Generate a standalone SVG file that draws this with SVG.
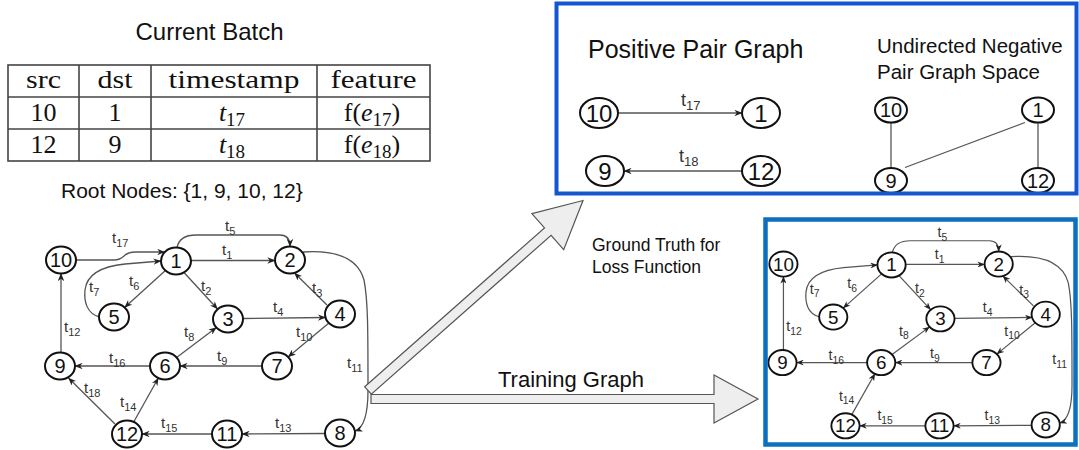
<svg xmlns="http://www.w3.org/2000/svg" width="1079" height="450" viewBox="0 0 1079 450">
<defs>
<style>
.nd ellipse{fill:#fff;stroke:#111;stroke-width:2}
.nd text{font-family:"Liberation Sans",Arial,sans-serif;font-size:20px;text-anchor:middle;fill:#111}
.big text{font-size:24px}
.e{fill:none;stroke:#555;stroke-width:1.3}
.ea{marker-end:url(#ah)}
.lbl{font-family:"Liberation Sans",Arial,sans-serif;font-size:15px;fill:#333}
.sub{font-size:11px}
.lbl.lg{font-size:18px}
.lbl.lg .sub{font-size:13px}
.sans{font-family:"Liberation Sans",Arial,sans-serif;fill:#111}
.serif{font-family:"Liberation Serif","Times New Roman",serif;fill:#111;font-size:26px;text-anchor:middle}
.it{font-style:italic}
.ss{font-size:19px}
.grid{stroke:#444;stroke-width:1.6;fill:none}
.blk{fill:#eeeeee;stroke:#555;stroke-width:1.2}
</style>
<marker id="ah" viewBox="0 0 10 8" refX="9.5" refY="4" markerWidth="8" markerHeight="6.4" orient="auto" markerUnits="userSpaceOnUse">
<path d="M0,0 L10,4 L0,8 L3,4 z" fill="#222"/>
</marker>
</defs>
<rect width="1079" height="450" fill="#fff"/>

<!-- Title and table -->
<text class="sans" x="209.5" y="40" font-size="24" text-anchor="middle">Current Batch</text>
<g id="table">
<rect class="grid" x="8" y="65" width="422" height="96"/>
<line class="grid" x1="8" y1="97" x2="430" y2="97"/>
<line class="grid" x1="8" y1="129" x2="430" y2="129"/>
<line class="grid" x1="79" y1="65" x2="79" y2="161"/>
<line class="grid" x1="151" y1="65" x2="151" y2="161"/>
<line class="grid" x1="317" y1="65" x2="317" y2="161"/>
<text class="serif" x="43.5" y="88" textLength="35" lengthAdjust="spacingAndGlyphs">src</text>
<text class="serif" x="115" y="88" textLength="35" lengthAdjust="spacingAndGlyphs">dst</text>
<text class="serif" x="234" y="88" textLength="131" lengthAdjust="spacingAndGlyphs">timestamp</text>
<text class="serif" x="373.5" y="88" textLength="86" lengthAdjust="spacingAndGlyphs">feature</text>
<text class="serif" x="43.5" y="121">10</text>
<text class="serif" x="115" y="121">1</text>
<text class="serif" x="232" y="121"><tspan class="it">t</tspan><tspan class="ss" dy="5">17</tspan></text>
<text class="serif" x="372" y="121">f(<tspan class="it">e</tspan><tspan class="ss" dy="5">17</tspan><tspan dy="-5">)</tspan></text>
<text class="serif" x="43.5" y="153">12</text>
<text class="serif" x="115" y="153">9</text>
<text class="serif" x="232" y="153"><tspan class="it">t</tspan><tspan class="ss" dy="5">18</tspan></text>
<text class="serif" x="372" y="153">f(<tspan class="it">e</tspan><tspan class="ss" dy="5">18</tspan><tspan dy="-5">)</tspan></text>
</g>
<text class="sans" x="61" y="198" font-size="21">Root Nodes: {1, 9, 10, 12}</text>

<!-- Left graph connectors -->
<g id="connectors-left">
<path class="e ea" d="M76,260 L114,260 Q120,260 124,256 Q128,252 136,252 L164.8,252"/>
<path class="e ea" d="M100,317 C86,314 84,300 85,290 C87,272 105,266 125,264 L161,261"/>
<path class="e ea" d="M165.4,270.6 L124.6,307.4"/>
<path class="e ea" d="M184,272.5 L217.5,309"/>
<path class="e ea" d="M191,260.5 L275,260.5"/>
<path class="e ea" d="M177,247.5 C179,238 186,235 196,235 L280,235 C287,235 290,239 290,246.5"/>
<path class="e ea" d="M327,305 L294.5,273"/>
<path class="e ea" d="M243,318.5 L325.5,317.5"/>
<path class="e ea" d="M328.9,323.1 L288.1,356.9"/>
<path class="e ea" d="M262,366 L180,366"/>
<path class="e ea" d="M176.6,357.4 L216.4,327.6"/>
<path class="e ea" d="M150,366 L75,366"/>
<path class="e ea" d="M61,352.5 L61,273.5"/>
<path class="e ea" d="M115,424 L68.5,378"/>
<path class="e ea" d="M133.7,422 L158.3,378"/>
<path class="e ea" d="M212,434 L142,434"/>
<path class="e ea" d="M325,433.5 L242,434"/>
<path class="e ea" d="M303,252 C335,250 358,258 364,280 C368,300 368,330 368,390 C368,415 364,428 355,431"/>
<text class="lbl" x="112" y="243">t<tspan class="sub" dy="4">17</tspan></text>
<text class="lbl" x="89" y="292">t<tspan class="sub" dy="4">7</tspan></text>
<text class="lbl" x="129" y="286">t<tspan class="sub" dy="4">6</tspan></text>
<text class="lbl" x="201" y="291">t<tspan class="sub" dy="4">2</tspan></text>
<text class="lbl" x="222" y="255">t<tspan class="sub" dy="4">1</tspan></text>
<text class="lbl" x="225" y="231">t<tspan class="sub" dy="4">5</tspan></text>
<text class="lbl" x="312" y="293">t<tspan class="sub" dy="4">3</tspan></text>
<text class="lbl" x="273" y="312">t<tspan class="sub" dy="4">4</tspan></text>
<text class="lbl" x="296" y="337">t<tspan class="sub" dy="4">10</tspan></text>
<text class="lbl" x="217" y="361">t<tspan class="sub" dy="4">9</tspan></text>
<text class="lbl" x="184" y="337">t<tspan class="sub" dy="4">8</tspan></text>
<text class="lbl" x="109" y="363">t<tspan class="sub" dy="4">16</tspan></text>
<text class="lbl" x="64" y="332">t<tspan class="sub" dy="4">12</tspan></text>
<text class="lbl" x="84" y="393">t<tspan class="sub" dy="4">18</tspan></text>
<text class="lbl" x="120" y="407">t<tspan class="sub" dy="4">14</tspan></text>
<text class="lbl" x="161" y="428">t<tspan class="sub" dy="4">15</tspan></text>
<text class="lbl" x="275" y="428">t<tspan class="sub" dy="4">13</tspan></text>
<text class="lbl" x="347" y="368">t<tspan class="sub" dy="4">11</tspan></text>
</g>

<!-- Left graph nodes -->
<g id="n10" class="nd"><ellipse cx="61" cy="260" rx="15" ry="13.5"/><text x="61" y="267">10</text></g>
<g id="n1" class="nd"><ellipse cx="176" cy="261" rx="15" ry="13.5"/><text x="176" y="268">1</text></g>
<g id="n5" class="nd"><ellipse cx="114" cy="317" rx="15" ry="13.5"/><text x="114" y="324">5</text></g>
<g id="n3" class="nd"><ellipse cx="228" cy="319" rx="15" ry="13.5"/><text x="228" y="326">3</text></g>
<g id="n2" class="nd"><ellipse cx="290" cy="260" rx="15" ry="13.5"/><text x="290" y="267">2</text></g>
<g id="n4" class="nd"><ellipse cx="340" cy="314" rx="15" ry="13.5"/><text x="340" y="321">4</text></g>
<g id="n7" class="nd"><ellipse cx="277" cy="366" rx="15" ry="13.5"/><text x="277" y="373">7</text></g>
<g id="n6" class="nd"><ellipse cx="165" cy="366" rx="15" ry="13.5"/><text x="165" y="373">6</text></g>
<g id="n9" class="nd"><ellipse cx="60" cy="366" rx="15" ry="13.5"/><text x="60" y="373">9</text></g>
<g id="n12" class="nd"><ellipse cx="127" cy="434" rx="15" ry="13.5"/><text x="127" y="441">12</text></g>
<g id="n11" class="nd"><ellipse cx="227" cy="434" rx="15" ry="13.5"/><text x="227" y="441">11</text></g>
<g id="n8" class="nd"><ellipse cx="340" cy="433" rx="15" ry="13.5"/><text x="340" y="440">8</text></g>

<!-- Block arrows -->
<g id="block-arrows">
<polygon class="blk" points="364.7,386.8 544.5,227.9 531.9,213.6 583,200.5 563.7,249.6 551.1,235.3 371.3,394.2"/>
<polygon class="blk" points="371,394.5 714,394.5 714,375 758,399 714,423 714,403.5 371,403.5"/>
</g>
<text class="sans" x="498" y="387" font-size="22">Training Graph</text>
<text class="sans" x="592" y="251" font-size="17.5">Ground Truth for</text>
<text class="sans" x="592" y="273" font-size="17.5">Loss Function</text>

<!-- Positive / negative pair panel -->
<text class="sans" x="588" y="58" font-size="25">Positive Pair Graph</text>
<text class="sans" x="877" y="53" font-size="20.5">Undirected Negative</text>
<text class="sans" x="877" y="79" font-size="20.5">Pair Graph Space</text>
<g id="connectors-pairs">
<path class="e ea" d="M618,113 L742,113"/>
<path class="e ea" d="M742,171 L624,171"/>
<text class="lbl lg" x="681" y="106">t<tspan class="sub" dy="4">17</tspan></text>
<text class="lbl lg" x="679" y="162">t<tspan class="sub" dy="4">18</tspan></text>
<line class="e" x1="891" y1="122" x2="891" y2="168"/>
<line class="e" x1="1038" y1="122" x2="1038" y2="168"/>
<line class="e" x1="1025" y1="122.5" x2="905" y2="167.5"/>
</g>
<g id="pp10" class="nd big"><ellipse cx="599" cy="113" rx="19" ry="15"/><text x="599" y="121.5">10</text></g>
<g id="pp1" class="nd big"><ellipse cx="761" cy="113" rx="19" ry="15"/><text x="761" y="121.5">1</text></g>
<g id="pp9" class="nd big"><ellipse cx="605" cy="171" rx="19" ry="15"/><text x="605" y="179.5">9</text></g>
<g id="pp12" class="nd big"><ellipse cx="761" cy="171" rx="19" ry="15"/><text x="761" y="179.5">12</text></g>
<g id="ng10" class="nd"><ellipse cx="891" cy="110" rx="16" ry="12.5"/><text x="891" y="117">10</text></g>
<g id="ng1" class="nd"><ellipse cx="1038" cy="110" rx="16" ry="12.5"/><text x="1038" y="117">1</text></g>
<g id="ng9" class="nd"><ellipse cx="891" cy="180.5" rx="16" ry="12.5"/><text x="891" y="187.5">9</text></g>
<g id="ng12" class="nd"><ellipse cx="1038" cy="180.5" rx="16" ry="12.5"/><text x="1038" y="187.5">12</text></g>
<rect x="556.5" y="3.5" width="520" height="190" fill="none" stroke="#1456cf" stroke-width="4"/>

<!-- Training graph panel -->
<g id="training-graph" transform="translate(726.1,22.2) scale(0.94,0.93)">
<g id="connectors-right">
<path class="e ea" d="M100,317 C86,314 84,300 85,290 C87,272 105,266 125,264 L161,261"/>
<path class="e ea" d="M165.4,270.6 L124.6,307.4"/>
<path class="e ea" d="M184,272.5 L217.5,309"/>
<path class="e ea" d="M191,260.5 L275,260.5"/>
<path class="e ea" d="M177,247.5 C179,238 186,235 196,235 L280,235 C287,235 290,239 290,246.5"/>
<path class="e ea" d="M327,305 L294.5,273"/>
<path class="e ea" d="M243,318.5 L325.5,317.5"/>
<path class="e ea" d="M328.9,323.1 L288.1,356.9"/>
<path class="e ea" d="M262,366 L180,366"/>
<path class="e ea" d="M176.6,357.4 L216.4,327.6"/>
<path class="e ea" d="M150,366 L75,366"/>
<path class="e ea" d="M61,352.5 L61,273.5"/>
<path class="e ea" d="M133.7,422 L158.3,378"/>
<path class="e ea" d="M212,434 L142,434"/>
<path class="e ea" d="M325,433.5 L242,434"/>
<path class="e ea" d="M303,252 C335,250 358,258 364,280 C368,300 368,330 368,390 C368,415 364,428 355,431"/>
<text class="lbl" x="89" y="292">t<tspan class="sub" dy="4">7</tspan></text>
<text class="lbl" x="129" y="286">t<tspan class="sub" dy="4">6</tspan></text>
<text class="lbl" x="201" y="291">t<tspan class="sub" dy="4">2</tspan></text>
<text class="lbl" x="222" y="255">t<tspan class="sub" dy="4">1</tspan></text>
<text class="lbl" x="225" y="231">t<tspan class="sub" dy="4">5</tspan></text>
<text class="lbl" x="312" y="293">t<tspan class="sub" dy="4">3</tspan></text>
<text class="lbl" x="273" y="312">t<tspan class="sub" dy="4">4</tspan></text>
<text class="lbl" x="296" y="337">t<tspan class="sub" dy="4">10</tspan></text>
<text class="lbl" x="217" y="361">t<tspan class="sub" dy="4">9</tspan></text>
<text class="lbl" x="184" y="337">t<tspan class="sub" dy="4">8</tspan></text>
<text class="lbl" x="109" y="363">t<tspan class="sub" dy="4">16</tspan></text>
<text class="lbl" x="64" y="332">t<tspan class="sub" dy="4">12</tspan></text>
<text class="lbl" x="120" y="407">t<tspan class="sub" dy="4">14</tspan></text>
<text class="lbl" x="161" y="428">t<tspan class="sub" dy="4">15</tspan></text>
<text class="lbl" x="275" y="428">t<tspan class="sub" dy="4">13</tspan></text>
<text class="lbl" x="347" y="368">t<tspan class="sub" dy="4">11</tspan></text>
</g>
<g id="r10" class="nd"><ellipse cx="61" cy="260" rx="15" ry="13.5"/><text x="61" y="267">10</text></g>
<g id="r1" class="nd"><ellipse cx="176" cy="261" rx="15" ry="13.5"/><text x="176" y="268">1</text></g>
<g id="r5" class="nd"><ellipse cx="114" cy="317" rx="15" ry="13.5"/><text x="114" y="324">5</text></g>
<g id="r3" class="nd"><ellipse cx="228" cy="319" rx="15" ry="13.5"/><text x="228" y="326">3</text></g>
<g id="r2" class="nd"><ellipse cx="290" cy="260" rx="15" ry="13.5"/><text x="290" y="267">2</text></g>
<g id="r4" class="nd"><ellipse cx="340" cy="314" rx="15" ry="13.5"/><text x="340" y="321">4</text></g>
<g id="r7" class="nd"><ellipse cx="277" cy="366" rx="15" ry="13.5"/><text x="277" y="373">7</text></g>
<g id="r6" class="nd"><ellipse cx="165" cy="366" rx="15" ry="13.5"/><text x="165" y="373">6</text></g>
<g id="r9" class="nd"><ellipse cx="60" cy="366" rx="15" ry="13.5"/><text x="60" y="373">9</text></g>
<g id="r12" class="nd"><ellipse cx="127" cy="434" rx="15" ry="13.5"/><text x="127" y="441">12</text></g>
<g id="r11" class="nd"><ellipse cx="227" cy="434" rx="15" ry="13.5"/><text x="227" y="441">11</text></g>
<g id="r8" class="nd"><ellipse cx="340" cy="433" rx="15" ry="13.5"/><text x="340" y="440">8</text></g>
</g>
<rect x="765.5" y="219.5" width="310" height="225" fill="none" stroke="#0c6fc0" stroke-width="4.5"/>
</svg>
